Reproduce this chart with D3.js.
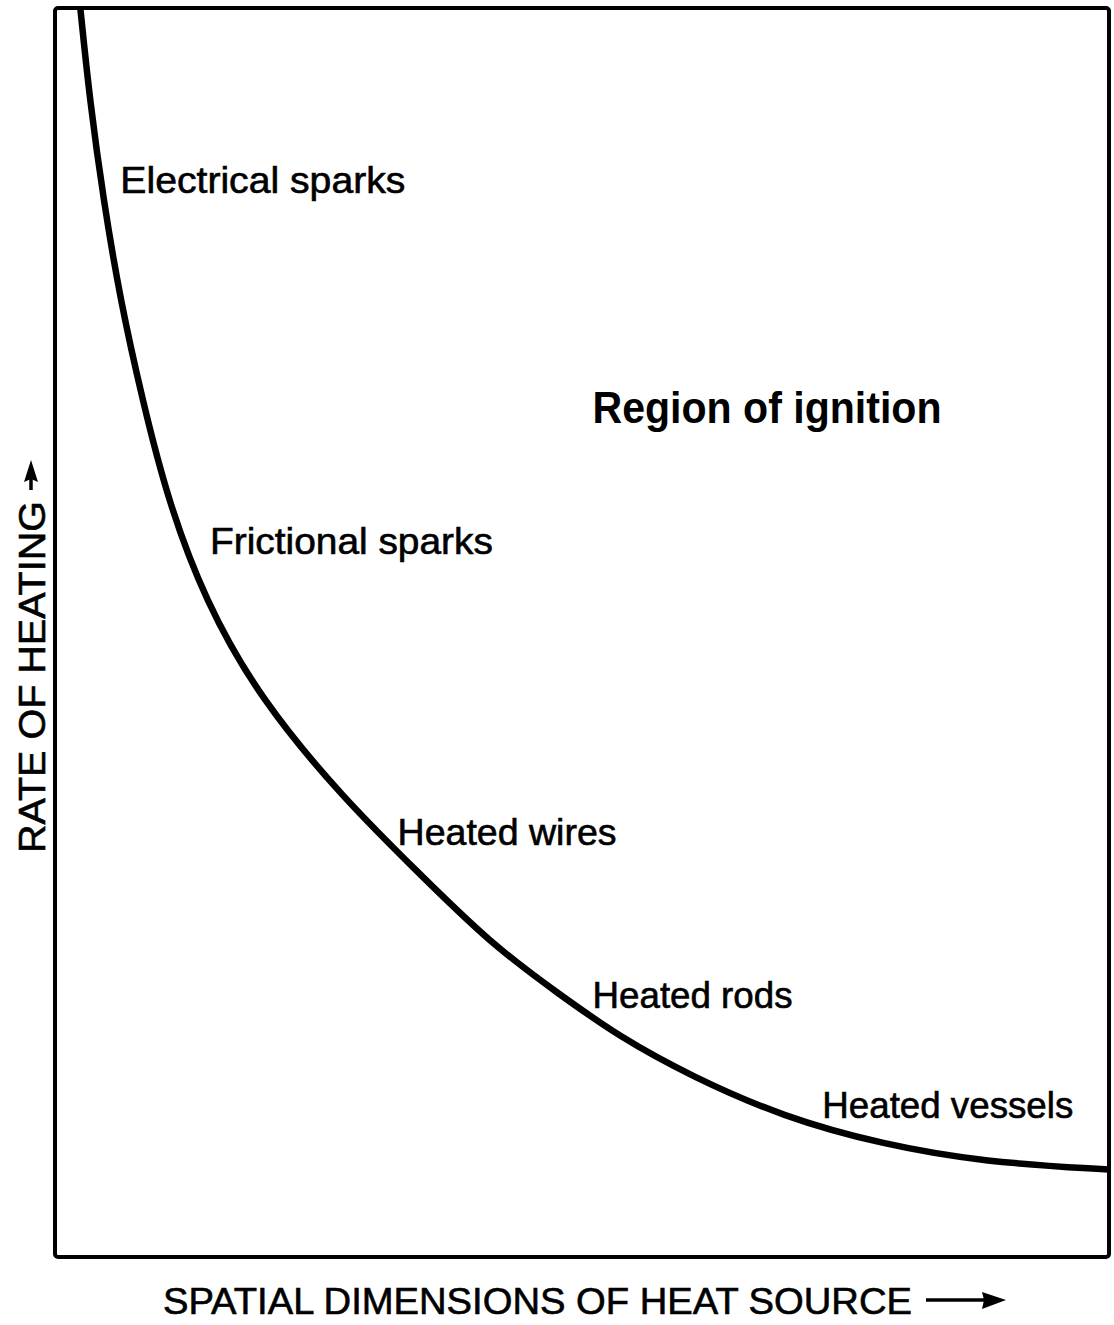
<!DOCTYPE html>
<html>
<head>
<meta charset="utf-8">
<script src="https://cdn.jsdelivr.net/npm/d3@7"></script>
<style>
  html, body { margin: 0; padding: 0; background: #fff; }
  svg { display: block; }
  text { font-family: "Liberation Sans", "DejaVu Sans", sans-serif; fill: #000; }
</style>
</head>
<body>
<svg id="chart" width="1114" height="1325"></svg>
<script>
// ---- data (arbitrary units; x: spatial dimension, y: rate of heating) ----
const curveX = [2.4, 3.3, 4.6, 6.2, 8.3, 10.7, 14.2, 19.5, 27.5, 34.2, 41.3, 47.9, 53.6, 60.3, 69.1, 78.6, 88.1, 100];
const curveY = [100, 92.6, 84.6, 76.6, 68.6, 60.6, 52.6, 44.6, 36.6, 31.0, 25.1, 21.0, 17.6, 14.5, 11.2, 9.0, 7.6, 7.0];

const labelNames = ["Electrical  sparks", "Frictional  sparks", "Heated  wires", "Heated  rods", "Heated  vessels"];
const labelX = [6.2, 14.7, 32.5, 51.0, 72.8];
const labelY = [85.2, 56.3, 33.0, 19.9, 11.1];

const regionName = "Region  of  ignition";
const regionX = 51.0;
const regionY = 66.8;

const xTitle = "SPATIAL  DIMENSIONS  OF  HEAT  SOURCE";
const yTitle = "RATE  OF  HEATING";

// ---- layout ----
const svg = d3.select("#chart");
const mLeft = 55, mRight = 1109, mTop = 8, mBottom = 1257;
const x = d3.scaleLinear().domain([0, 100]).range([mLeft, mRight]);
const y = d3.scaleLinear().domain([0, 100]).range([mBottom, mTop]);

svg.append("defs").append("clipPath").attr("id", "plotclip")
  .append("rect").attr("x", mLeft).attr("y", mTop)
  .attr("width", mRight - mLeft).attr("height", mBottom - mTop);

// frame
svg.append("rect")
  .attr("x", x(0)).attr("y", y(100))
  .attr("width", x(100) - x(0)).attr("height", y(0) - y(100))
  .attr("fill", "none").attr("stroke", "#000").attr("stroke-width", 4)
  .attr("rx", 3);

// curve
const pts = curveX.map((d, i) => [d, curveY[i]]);
const line = d3.line().x(d => x(d[0])).y(d => y(d[1])).curve(d3.curveBasis);
svg.append("path")
  .datum(pts)
  .attr("d", line)
  .attr("clip-path", "url(#plotclip)")
  .attr("fill", "none").attr("stroke", "#000").attr("stroke-width", 6.5)
  .attr("stroke-linecap", "butt");

// labels
const widths = [285, 283, 219, 200, 251];
labelNames.forEach((name, i) => {
  svg.append("text")
    .attr("x", x(labelX[i])).attr("y", y(labelY[i]))
    .attr("font-size", 36)
    .attr("stroke", "#000").attr("stroke-width", 0.6)
    .attr("textLength", widths[i]).attr("lengthAdjust", "spacingAndGlyphs")
    .text(name);
});

svg.append("text")
  .attr("x", x(regionX)).attr("y", y(regionY))
  .attr("font-size", 44).attr("font-weight", "bold")
  .attr("textLength", 349).attr("lengthAdjust", "spacingAndGlyphs")
  .text(regionName);

// x title + arrow
svg.append("text")
  .attr("x", 163).attr("y", 1314)
  .attr("font-size", 37)
  .attr("stroke", "#000").attr("stroke-width", 0.6)
  .attr("textLength", 749).attr("lengthAdjust", "spacingAndGlyphs")
  .text(xTitle);
svg.append("line")
  .attr("x1", 926).attr("y1", 1300).attr("x2", 990).attr("y2", 1300)
  .attr("stroke", "#000").attr("stroke-width", 3.5);
svg.append("path")
  .attr("d", "M1006,1300 L982,1292 L984,1300 L982,1309 Z")
  .attr("fill", "#000");

// y title + arrow
svg.append("text")
  .attr("transform", "translate(45,853) rotate(-90)")
  .attr("font-size", 37)
  .attr("stroke", "#000").attr("stroke-width", 0.6)
  .attr("textLength", 352).attr("lengthAdjust", "spacingAndGlyphs")
  .text(yTitle);
svg.append("line")
  .attr("x1", 31).attr("y1", 490).attr("x2", 31).attr("y2", 476)
  .attr("stroke", "#000").attr("stroke-width", 3.5);
svg.append("path")
  .attr("d", "M31,460 L24,482 L31,479 L38,482 Z")
  .attr("fill", "#000");
</script>
</body>
</html>
